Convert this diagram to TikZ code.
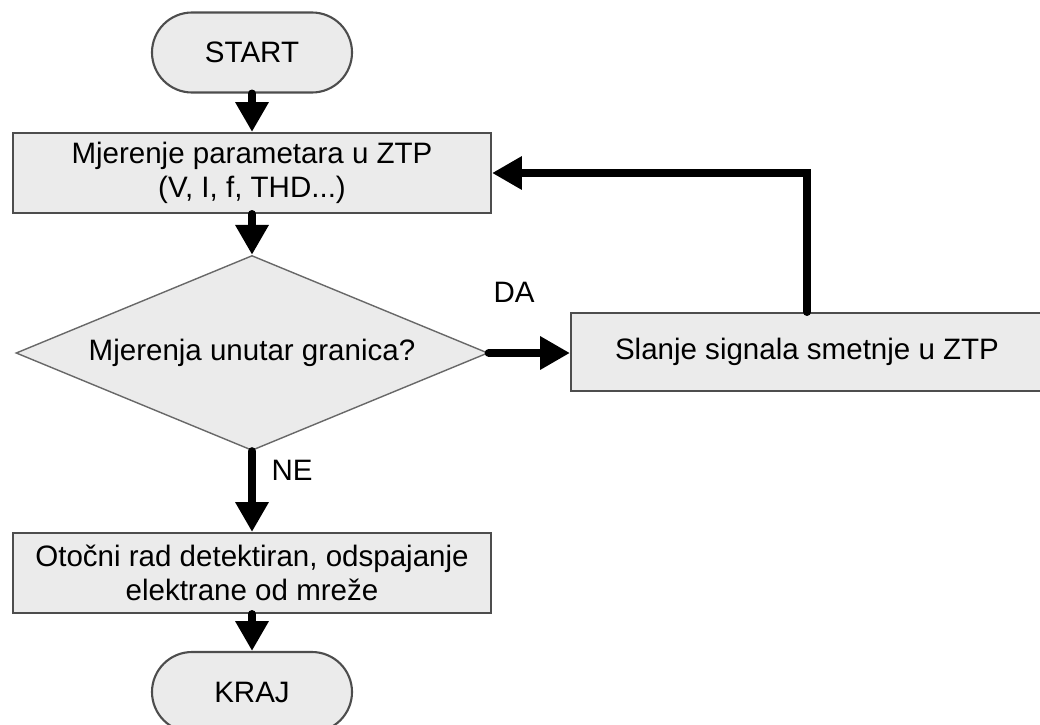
\documentclass[tikz,border=0pt]{standalone}
\usepackage{fontspec}
\setmainfont{Liberation Sans}
\usetikzlibrary{arrows.meta,shapes.geometric}
\definecolor{boxfill}{HTML}{EBEBEB}
\definecolor{boxline}{HTML}{4D4D4D}
\tikzset{
  blok/.style={draw=boxline, line width=0.6pt, fill=boxfill, inner sep=0pt,
    minimum height=0.8cm, align=center},
  krajnji/.style={blok, minimum width=2cm, rounded corners=0.4cm},
  odluka/.style={diamond, draw=boxline!85, line width=0.4pt, fill=boxfill,
    aspect=2.42, inner sep=0pt, minimum width=4.72cm, minimum height=1.95cm},
  tok/.style={line width=2.3pt, line cap=round, -{Triangle[length=8.5pt,width=9pt]}}
}

\begin{document}
\begin{tikzpicture}[font=\fontsize{8.4}{9.8}\selectfont]
      \clip (0,0) rectangle (10.4,7.24);
      \node[krajnji] (start) at (2.52,6.715) {START};
      \node[blok, minimum width=4.78cm] (mjerenje) at (2.52,5.51)
      {Mjerenje parametara u ZTP\\(V, I, f, THD...)};
      \node[odluka] (granice) at (2.52,3.71) {Mjerenja unutar granica?};
      \node[blok, minimum width=4.72cm, minimum height=0.78cm] (signal) at (8.07,3.72)
      {Slanje signala smetnje u ZTP};
      \node[blok, minimum width=4.78cm] (otok) at (2.52,1.51)
      {Oto\v{c}ni rad detektiran, odspajanje\\elektrane od mre\v{z}e};
      \node[krajnji] (kraj) at (2.52,0.32) {KRAJ};
      \node (da) at (5.14,4.32) {DA};
      \node (ne) at (2.92,2.54) {NE};
      \draw[tok] (start) -- (mjerenje);
      \draw[tok] (mjerenje) -- (granice);
      \draw[tok] (granice.east) -- (granice.east -| signal.west);
      \draw[tok] (signal.north) |- (mjerenje.east);
      \draw[tok] (granice.south) -- (otok.north);
      \draw[tok] (otok) -- (kraj);
    \end{tikzpicture}
\end{document}
